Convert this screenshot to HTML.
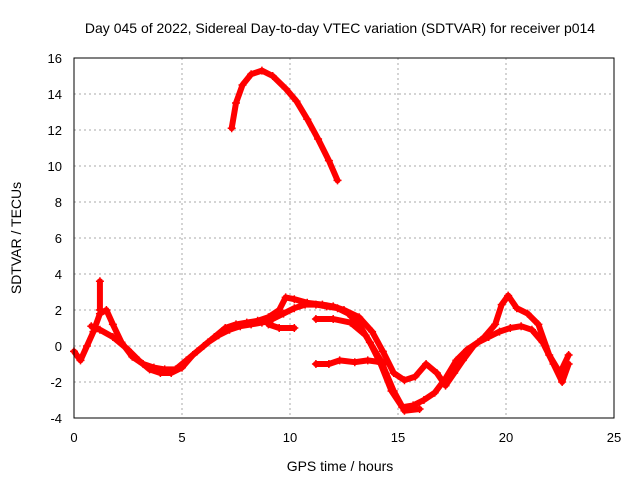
<!DOCTYPE html>
<html><head><meta charset="utf-8"><style>
body{margin:0;background:#fff}
svg{font-family:"Liberation Sans",sans-serif;font-size:13px}
</style></head><body>
<svg id="c" width="640" height="480" xmlns="http://www.w3.org/2000/svg">
<rect width="640" height="480" fill="#fff"/>
<text x="340" y="33" text-anchor="middle" font-size="14">Day 045 of 2022, Sidereal Day-to-day VTEC variation (SDTVAR) for receiver p014</text>
<g id="grid"></g>
<g id="ticks"></g>
<g id="series"></g>
<rect x="74" y="58" width="540" height="360" fill="none" stroke="#000"/>
<text x="340" y="471" text-anchor="middle" font-size="14">GPS time / hours</text>
<text transform="translate(21,238) rotate(-90)" text-anchor="middle" font-size="14">SDTVAR / TECUs</text>
</svg>
<script>
const xTicks=[0,5,10,15,20,25];
const yTicks=[-4,-2,0,2,4,6,8,10,12,14,16];
const trackA=[[7.3,12.1],[7.5,13.5],[7.8,14.5],[8.2,15.1],[8.7,15.3],[9.2,15.0],[9.8,14.3],[10.3,13.6],[10.8,12.6],[11.3,11.5],[11.8,10.3],[12.2,9.2]];
const trackB=[[0,-0.3],[0.3,-0.8],[0.6,0],[0.9,0.8],[1.2,1.8],[1.5,2.0],[1.8,1.2],[2.2,0.2],[2.7,-0.6],[3.2,-1.0],[3.7,-1.2],[4.2,-1.3],[4.7,-1.3],[5.2,-0.8],[5.7,-0.3],[6.2,0.2],[6.7,0.6],[7.2,0.9],[7.7,1.1],[8.2,1.2],[8.7,1.3],[9.2,1.5],[9.7,1.8],[10.2,2.1],[10.7,2.3],[11.2,2.3],[11.7,2.2],[12.2,2.1],[12.7,1.8],[13.2,1.2],[13.7,0.2],[14.2,-1.0],[14.7,-2.5],[15.2,-3.4],[15.7,-3.3],[16.2,-3.0],[16.7,-2.6],[17.2,-1.8],[17.7,-0.8],[18.2,-0.2],[18.7,0.2],[19.2,0.5],[19.7,0.8],[20.2,1.0],[20.7,1.1],[21.2,0.9],[21.7,0.2],[22.2,-1.0],[22.6,-2.0],[22.9,-1.0]];
const trackC=[[0.8,1.1],[1.2,0.9],[1.8,0.5],[2.5,-0.2],[3,-0.8],[3.5,-1.3],[4,-1.5],[4.5,-1.5],[5,-1.2],[5.5,-0.5],[6,0],[6.5,0.5],[7,1.0],[7.5,1.2],[8,1.3],[8.5,1.4],[9,1.6],[9.5,2.0],[9.8,2.7],[10.2,2.6],[10.8,2.4],[11.5,2.3],[12,2.2],[12.5,2.0],[13.2,1.6],[13.8,0.8],[14.3,-0.3],[14.8,-1.5],[15.3,-1.9],[15.8,-1.7],[16.3,-1.0],[16.8,-1.5],[17.2,-2.2],[17.6,-1.5],[18,-0.8],[18.5,0],[19,0.5],[19.5,1.2],[19.8,2.3],[20.1,2.8],[20.5,2.1],[21,1.8],[21.5,1.2],[22,-0.5],[22.5,-1.5],[22.9,-0.5]];
const trackD=[[11.2,-1.0],[11.8,-1.0],[12.3,-0.8],[13,-0.9],[13.6,-0.8],[14.2,-0.9],[14.5,-0.9]];
const trackE=[[11.2,1.5],[12,1.5],[12.8,1.3],[13.5,0.6],[14.2,-0.8],[14.8,-2.5],[15.3,-3.6],[16,-3.5]];
const trackF=[[9,1.2],[9.5,1.0],[10.2,1.0]];
const trackG=[[1.2,3.6],[1.2,2.0]];
const X=v=>74+v*21.6, Y=v=>418-(v+4)*18;
const ns="http://www.w3.org/2000/svg";
const g=document.getElementById('grid'), t=document.getElementById('ticks'), s=document.getElementById('series');
function el(p,tag,a){const e=document.createElementNS(ns,tag);for(const k in a)e.setAttribute(k,a[k]);p.appendChild(e);return e;}
xTicks.forEach(v=>{
  if(v>0&&v<25){const l=el(g,'line',{x1:X(v),x2:X(v),y1:58,y2:418,stroke:'#aaa','stroke-dasharray':'2,3'});
  
  }
  const tx=el(t,'text',{x:X(v),y:442,'text-anchor':'middle'});tx.textContent=v;
  
  
});
yTicks.forEach(v=>{
  if(v>-4&&v<16){const l=el(g,'line',{x1:74,x2:614,y1:Y(v),y2:Y(v),stroke:'#aaa','stroke-dasharray':'2,3'});
  
  }
  const tx=el(t,'text',{x:62,y:Y(v)+5,'text-anchor':'end'});tx.textContent=v;
  
  
});
[trackA,trackB,trackC,trackD,trackE,trackF,trackG].forEach((tr,i)=>{
  const p=el(s,'polyline',{points:tr.map(d=>X(d[0])+','+Y(d[1])).join(' '),fill:'none',stroke:'#f00','stroke-width':6,'stroke-linejoin':'round','stroke-linecap':'round'});
  
  
  tr.forEach(d=>{
    const m=el(s,'path',{d:`M${X(d[0])-4},${Y(d[1])}h8M${X(d[0])},${Y(d[1])-4}v8`,stroke:'#f00','stroke-width':1.5});
    
    
  });
});
</script>
</body></html>
